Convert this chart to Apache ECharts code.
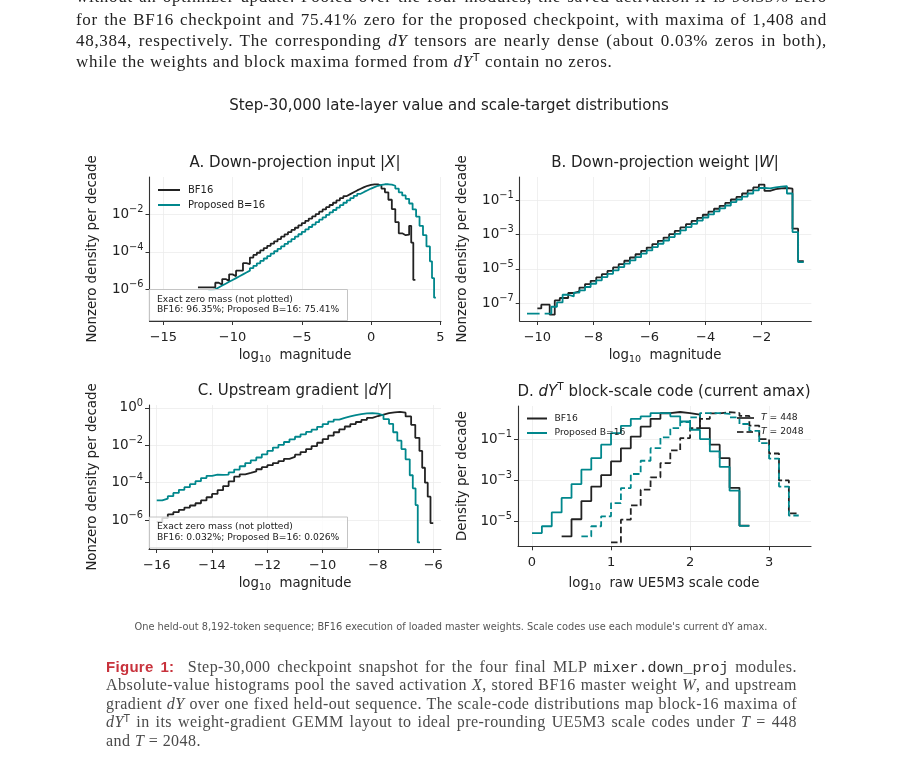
<!DOCTYPE html>
<html>
<head>
<meta charset="utf-8">
<script src="https://cdn.jsdelivr.net/npm/echarts@6/dist/echarts.min.js"></script>
<style>
  html, body { margin: 0; padding: 0; background: #fff; }
  #page { position: relative; width: 902px; height: 776px; overflow: hidden; }
  #chart { position: absolute; left: 0; top: 0; width: 902px; height: 776px; }
  .ln { position: absolute; font-family: "Liberation Serif", serif; text-align: justify; text-align-last: justify; white-space: nowrap; }
  .ln.last { text-align-last: left; }
  .body { left: 76px; width: 751px; font-size: 17px; line-height: 21px; color: #222; letter-spacing: 0.7px; }
  .cap { left: 106px; width: 691px; font-size: 16px; line-height: 19px; color: #4a4a4a; letter-spacing: 0.45px; }
  .ln sup { font-family: "DejaVu Sans", sans-serif; font-size: 0.62em; line-height: 0; vertical-align: 0.55em; }
  .fig { font-family: "Liberation Sans", sans-serif; font-weight: 600; color: #c8323c; font-size: 15px; letter-spacing: 0.3px; }
  .tt { font-family: "Liberation Mono", monospace; font-size: 15px; color: #333; letter-spacing: 0; }
</style>
</head>
<body>
<div id="page">
  <div id="chart"></div>

  <div class="ln body" style="top:-14px">without an optimizer update. Pooled over the four modules, the saved activation <i>X</i> is 96.35% zero</div>
  <div class="ln body" style="top:8.8px">for the BF16 checkpoint and 75.41% zero for the proposed checkpoint, with maxima of 1,408 and</div>
  <div class="ln body" style="top:29.8px">48,384, respectively. The corresponding <i>dY</i> tensors are nearly dense (about 0.03% zeros in both),</div>
  <div class="ln body last" style="top:50.8px">while the weights and block maxima formed from <i>dY</i><sup>T</sup> contain no zeros.</div>

  <div class="ln cap" style="top:656.8px"><span class="fig">Figure 1:</span>&nbsp; Step-30,000 checkpoint snapshot for the four final MLP <span class="tt">mixer.down_proj</span> modules.</div>
  <div class="ln cap" style="top:675.3px">Absolute-value histograms pool the saved activation <i>X</i>, stored BF16 master weight <i>W</i>, and upstream</div>
  <div class="ln cap" style="top:693.8px">gradient <i>dY</i> over one fixed held-out sequence. The scale-code distributions map block-16 maxima of</div>
  <div class="ln cap" style="top:712.3px"><i>dY</i><sup>T</sup> in its weight-gradient GEMM layout to ideal pre-rounding UE5M3 scale codes under <i>T</i> = 448</div>
  <div class="ln cap last" style="top:730.8px">and <i>T</i> = 2048.</div>
</div>

<script>
// values are log10(density per decade); x is log10 magnitude (bin edges)
const aBf16 = [[-12.5,-5.9],[-12.25,-5.9],[-12,-5.9],[-11.75,-5.9],[-11.5,-5.9],[-11.25,-5.65],[-11,-5.75],[-10.75,-5.45],[-10.5,-5.55],[-10.25,-5.2],[-10,-5.3],[-9.75,-5.0],[-9.5,-5.0],[-9.25,-4.6],[-9,-4.65],[-8.75,-4.3],[-8.5,-4.16],[-8.25,-4.04],[-8,-3.91],[-7.75,-3.79],[-7.5,-3.67],[-7.25,-3.55],[-7,-3.43],[-6.75,-3.31],[-6.5,-3.18],[-6.25,-3.06],[-6,-2.94],[-5.75,-2.82],[-5.5,-2.7],[-5.25,-2.57],[-5,-2.45],[-4.75,-2.33],[-4.5,-2.21],[-4.25,-2.09],[-4,-1.97],[-3.75,-1.84],[-3.5,-1.72],[-3.25,-1.6],[-3,-1.48],[-2.75,-1.36],[-2.5,-1.23],[-2.25,-1.11],[-2,-1.0],[-1.75,-0.9],[-1.5,-0.8],[-1.25,-0.7],[-1,-0.61],[-0.75,-0.52],[-0.5,-0.45],[-0.25,-0.4],[0,-0.37],[0.25,-0.38],[0.5,-0.45],[0.75,-0.6],[1,-0.8],[1.25,-1.2],[1.5,-1.7],[1.75,-2.4],[2,-3.0],[2.25,-3.1],[2.5,-3.07],[2.75,-2.6],[2.9,-3.5],[3.05,-5.5],[3.2,-5.5]];
const aProposed = [[-11.75,-6.05],[-11.5,-6.0],[-11.25,-5.9],[-11,-5.8],[-10.75,-5.7],[-10.5,-5.6],[-10.25,-5.5],[-10,-5.4],[-9.75,-5.3],[-9.5,-5.2],[-9.25,-5.1],[-9,-5.0],[-8.75,-4.87],[-8.5,-4.74],[-8.25,-4.61],[-8,-4.48],[-7.75,-4.35],[-7.5,-4.22],[-7.25,-4.09],[-7,-3.96],[-6.75,-3.83],[-6.5,-3.7],[-6.25,-3.57],[-6,-3.44],[-5.75,-3.31],[-5.5,-3.18],[-5.25,-3.05],[-5,-2.92],[-4.75,-2.79],[-4.5,-2.66],[-4.25,-2.53],[-4,-2.4],[-3.75,-2.27],[-3.5,-2.14],[-3.25,-2.01],[-3,-1.88],[-2.75,-1.75],[-2.5,-1.62],[-2.25,-1.49],[-2,-1.36],[-1.75,-1.23],[-1.5,-1.11],[-1.25,-0.99],[-1,-0.88],[-0.75,-0.78],[-0.5,-0.69],[-0.25,-0.6],[0,-0.52],[0.25,-0.45],[0.5,-0.4],[0.75,-0.37],[1,-0.37],[1.25,-0.39],[1.5,-0.45],[1.75,-0.6],[2,-0.8],[2.25,-0.97],[2.5,-1.15],[2.75,-1.4],[3,-1.72],[3.25,-2.1],[3.5,-2.6],[3.75,-3.1],[4,-3.7],[4.25,-4.5],[4.4,-5.4],[4.55,-6.45],[4.68,-6.45]];

const bBf16 = [[-10,-7.3],[-9.86,-7.08],[-9.56,-7.66],[-9.38,-6.83],[-9.2,-6.69],[-8.9,-6.4],[-8.7,-6.3],[-8.5,-6.08],[-8.3,-5.88],[-8.1,-5.69],[-7.9,-5.49],[-7.7,-5.3],[-7.5,-5.11],[-7.3,-4.91],[-7.1,-4.72],[-6.9,-4.52],[-6.7,-4.33],[-6.5,-4.14],[-6.3,-3.94],[-6.1,-3.75],[-5.9,-3.55],[-5.7,-3.36],[-5.5,-3.17],[-5.3,-2.97],[-5.1,-2.78],[-4.9,-2.58],[-4.7,-2.39],[-4.5,-2.2],[-4.3,-2.02],[-4.1,-1.84],[-3.9,-1.66],[-3.7,-1.49],[-3.5,-1.32],[-3.3,-1.15],[-3.1,-0.95],[-2.9,-0.8],[-2.7,-0.6],[-2.5,-0.42],[-2.3,-0.25],[-2.1,-0.08],[-1.9,-0.45],[-1.7,-0.35],[-1.5,-0.3],[-1.3,-0.28],[-1.1,-0.32],[-0.9,-2.65],[-0.7,-4.55],[-0.5,-4.55]];
const bProposed = [[-10.37,-7.6],[-9.92,-7.6],[-9.92,'-'],[-9.74,-7.6],[-9.5,-7.2],[-9.3,-6.95],[-9.1,-6.5],[-8.9,-6.6],[-8.7,-6.38],[-8.5,-6.25],[-8.3,-6.05],[-8.1,-5.86],[-7.9,-5.66],[-7.7,-5.47],[-7.5,-5.28],[-7.3,-5.08],[-7.1,-4.89],[-6.9,-4.69],[-6.7,-4.5],[-6.5,-4.31],[-6.3,-4.11],[-6.1,-3.92],[-5.9,-3.72],[-5.7,-3.53],[-5.5,-3.34],[-5.3,-3.14],[-5.1,-2.95],[-4.9,-2.75],[-4.7,-2.56],[-4.5,-2.37],[-4.3,-2.18],[-4.1,-2.0],[-3.9,-1.82],[-3.7,-1.64],[-3.5,-1.47],[-3.3,-1.3],[-3.1,-1.1],[-2.9,-0.95],[-2.7,-0.78],[-2.5,-0.6],[-2.3,-0.42],[-2.1,-0.28],[-1.9,-0.3],[-1.7,-0.25],[-1.5,-0.2],[-1.3,-0.17],[-1.1,-0.6],[-0.9,-2.85],[-0.7,-4.6],[-0.5,-4.6]];

const cBf16 = [[-16,-6.1],[-15.8,-5.9],[-15.6,-5.7],[-15.4,-5.58],[-15.2,-5.45],[-15,-5.33],[-14.8,-5.22],[-14.6,-5.1],[-14.4,-4.95],[-14.2,-4.78],[-14,-4.6],[-13.8,-4.4],[-13.6,-4.18],[-13.4,-3.93],[-13.2,-3.68],[-13,-3.55],[-12.8,-3.48],[-12.6,-3.4],[-12.4,-3.28],[-12.2,-3.17],[-12,-3.06],[-11.8,-2.95],[-11.6,-2.84],[-11.4,-2.72],[-11.2,-2.62],[-11,-2.5],[-10.8,-2.36],[-10.6,-2.2],[-10.4,-2.04],[-10.2,-1.86],[-10,-1.67],[-9.8,-1.48],[-9.6,-1.3],[-9.4,-1.14],[-9.2,-0.99],[-9,-0.86],[-8.8,-0.75],[-8.6,-0.64],[-8.4,-0.53],[-8.2,-0.43],[-8,-0.35],[-7.8,-0.28],[-7.6,-0.24],[-7.4,-0.21],[-7.2,-0.25],[-7,-0.45],[-6.8,-0.9],[-6.65,-1.6],[-6.5,-2.3],[-6.4,-3.2],[-6.3,-4.0],[-6.2,-4.75],[-6.1,-6.16],[-6,-6.16]];
const cProposed = [[-16,-4.95],[-15.8,-4.85],[-15.6,-4.72],[-15.4,-4.55],[-15.2,-4.38],[-15,-4.24],[-14.8,-4.08],[-14.6,-3.92],[-14.4,-3.75],[-14.2,-3.63],[-14,-3.57],[-13.8,-3.58],[-13.6,-3.57],[-13.4,-3.45],[-13.2,-3.3],[-13,-3.12],[-12.8,-2.95],[-12.6,-2.8],[-12.4,-2.65],[-12.2,-2.48],[-12,-2.3],[-11.8,-2.12],[-11.6,-1.97],[-11.4,-1.82],[-11.2,-1.68],[-11,-1.54],[-10.8,-1.41],[-10.6,-1.28],[-10.4,-1.16],[-10.2,-1.01],[-10,-0.86],[-9.8,-0.73],[-9.6,-0.62],[-9.4,-0.53],[-9.2,-0.45],[-9,-0.38],[-8.8,-0.33],[-8.6,-0.29],[-8.4,-0.27],[-8.2,-0.3],[-8,-0.4],[-7.8,-0.6],[-7.6,-0.85],[-7.45,-1.3],[-7.3,-1.75],[-7.15,-2.2],[-7,-2.75],[-6.85,-3.6],[-6.74,-4.3],[-6.64,-5.2],[-6.56,-7.2],[-6.48,-7.2]];

// panel D: x is log10 raw UE5M3 scale code
const dBf16T448 = [[0.375,-5.71],[0.5,-4.88],[0.625,-4.0],[0.75,-3.3],[0.875,-2.75],[1,-2.08],[1.125,-1.45],[1.25,-0.88],[1.375,-0.4],[1.5,-0.02],[1.625,0.25],[1.75,0.31],[1.875,0.26],[2,0.18],[2.125,-0.47],[2.25,-1.27],[2.375,-1.92],[2.5,-3.36],[2.625,-5.19],[2.75,-5.19]];
const dProposedT448 = [[0,-5.55],[0.125,-5.22],[0.25,-4.55],[0.375,-3.85],[0.5,-3.18],[0.625,-2.48],[0.75,-1.92],[0.875,-1.27],[1,-0.71],[1.125,-0.36],[1.25,-0.02],[1.375,0.1],[1.5,0.26],[1.625,0.26],[1.75,0.1],[1.875,-0.15],[2,-0.55],[2.125,-1.0],[2.25,-1.6],[2.375,-2.35],[2.5,-3.5],[2.625,-5.2],[2.75,-5.2]];
const dBf16T2048 = [[1,-6.0],[1.125,-4.9],[1.25,-4.21],[1.375,-3.45],[1.5,-2.85],[1.625,-2.16],[1.75,-1.55],[1.875,-0.95],[2,-0.47],[2.125,-0.02],[2.25,0.24],[2.375,0.3],[2.5,0.26],[2.625,0.12],[2.75,-0.35],[2.875,-1.0],[3,-1.7],[3.125,-3.0],[3.25,-4.6],[3.375,-4.6]];
const dProposedT2048 = [[0.625,-5.71],[0.75,-5.22],[0.875,-4.74],[1,-4.1],[1.125,-3.37],[1.25,-2.69],[1.375,-2.05],[1.5,-1.44],[1.625,-0.92],[1.75,-0.47],[1.875,-0.18],[2,0.05],[2.125,0.26],[2.25,0.26],[2.375,0.22],[2.5,0.05],[2.625,-0.27],[2.75,-0.6],[2.875,-1.2],[3,-1.95],[3.125,-3.3],[3.25,-4.7],[3.375,-4.7]];

// tick values (x in log10 units, y as decade exponents)
const aXTicks = [-15, -10, -5, 0, 5];
const aYTicks = [-6, -4, -2];
const bXTicks = [-10, -8, -6, -4, -2];
const bYTicks = [-7, -5, -3, -1];
const cXTicks = [-16, -14, -12, -10, -8, -6];
const cYTicks = [-6, -4, -2, 0];
const dXTicks = [0, 1, 2, 3];
const dYTicks = [-5, -3, -1];

const BLACK = "#222222";
const TEAL = "#00878c";
const FONT = "DejaVu Sans";

const minus = v => (v < 0 ? "\u2212" : "") + Math.abs(v);
const pow10 = v => "10{sup|" + minus(v) + "}";

const xAx = (gi, min, max, ticks) => ({
  type: "value", gridIndex: gi, min, max,
  axisLine: { show: true, onZero: false, lineStyle: { color: "#333", width: 1.1 } },
  axisTick: { show: true, length: 4, customValues: ticks, lineStyle: { color: "#333", width: 1 } },
  axisLabel: { customValues: ticks, margin: 10, color: "#222", fontFamily: FONT, fontSize: 13, formatter: minus },
  splitLine: { show: true, lineStyle: { color: "#ececec", width: 0.8 } }
});

const yAx = (gi, min, max, ticks) => ({
  type: "value", gridIndex: gi, min, max,
  axisLine: { show: true, onZero: false, lineStyle: { color: "#333", width: 1.1 } },
  axisTick: { show: true, length: 4, customValues: ticks, lineStyle: { color: "#333", width: 1 } },
  axisLabel: {
    customValues: ticks, margin: 6, color: "#222", fontFamily: FONT, fontSize: 13.5, formatter: pow10,
    rich: { sup: { fontFamily: FONT, fontSize: 9.8, color: "#222", padding: [0, 0, 10, 0] } }
  },
  splitLine: { show: true, lineStyle: { color: "#ececec", width: 0.8 } }
});

const stairs = (name, gi, data, color, dashed, z) => ({
  type: "line", name, xAxisIndex: gi, yAxisIndex: gi, data, step: "end",
  symbol: "none", silent: true, z,
  lineStyle: { color, width: 1.8, type: dashed ? [6.5, 3] : "solid" }
});

// helpers for text / legend marks
const txt = (x, y, text, size, opts = {}) => ({
  type: "text", x, y, z: 50, rotation: opts.rot || 0,
  style: {
    text, fill: opts.color || "#222", fontFamily: FONT, fontSize: size,
    textAlign: opts.align || "center", textVerticalAlign: "middle", rich: opts.rich
  }
});
const seg = (x1, x2, y, color, dashed) => ({
  type: "line", z: 50, shape: { x1, y1: y, x2, y2: y },
  style: { stroke: color, lineWidth: 2, lineDash: dashed ? [6.5, 3] : null }
});
const box = (x, y, w, h) => ({
  type: "rect", z: 40, shape: { x, y, width: w, height: h },
  style: { fill: "rgba(255,255,255,0.82)", stroke: "#c4c4c4", lineWidth: 1 }
});

const it = { fontFamily: FONT, fontSize: 15, fontStyle: "italic", fill: "#222" };
const titleRich = { i: it, sup: { fontFamily: FONT, fontSize: 10.5, fill: "#222", padding: [0, 0, 10, 0] } };
const subRich = { sub: { fontFamily: FONT, fontSize: 9.5, fill: "#222", padding: [8, 0, 0, 0] } };
const smallIt = { fontFamily: FONT, fontSize: 9.2, fontStyle: "italic", fill: "#222" };

const chart = echarts.init(document.getElementById("chart"), null, { renderer: "canvas", width: 902, height: 776 });

chart.setOption({
  animation: false,
  grid: [
    { left: 149.5, top: 177, width: 291.5, height: 144 },
    { left: 519.7, top: 177, width: 291.6, height: 144 },
    { left: 149, top: 405, width: 292, height: 144 },
    { left: 518, top: 406, width: 293, height: 140.3 }
  ],
  xAxis: [
    xAx(0, -16, 5.05, aXTicks),
    xAx(1, -10.63, -0.23, bXTicks),
    xAx(2, -16.28, -5.72, cXTicks),
    xAx(3, -0.177, 3.53, dXTicks)
  ],
  yAxis: [
    yAx(0, -7.7, 0.02, aYTicks),
    yAx(1, -8.03, 0.36, bYTicks),
    yAx(2, -7.55, 0.16, cYTicks),
    yAx(3, -6.19, 0.6, dYTicks)
  ],
  series: [
    stairs("BF16", 0, aBf16, BLACK, false, 3),
    stairs("Proposed B=16", 0, aProposed, TEAL, false, 4),
    stairs("BF16", 1, bBf16, BLACK, false, 3),
    stairs("Proposed B=16", 1, bProposed, TEAL, false, 4),
    stairs("BF16", 2, cBf16, BLACK, false, 3),
    stairs("Proposed B=16", 2, cProposed, TEAL, false, 4),
    stairs("BF16 T=448", 3, dBf16T448, BLACK, false, 3),
    stairs("Proposed B=16 T=448", 3, dProposedT448, TEAL, false, 4),
    stairs("BF16 T=2048", 3, dBf16T2048, BLACK, true, 3),
    stairs("Proposed B=16 T=2048", 3, dProposedT2048, TEAL, true, 4)
  ],
  graphic: [
    txt(449, 106, "Step-30,000 late-layer value and scale-target distributions", 15),
    txt(295, 163, "A. Down-projection input |{i|X}|", 15, { rich: titleRich }),
    txt(665, 163, "B. Down-projection weight |{i|W}|", 15, { rich: titleRich }),
    txt(295, 391, "C. Upstream gradient |{i|dY}|", 15, { rich: titleRich }),
    txt(664, 392, "D. {i|dY}{sup|T} block-scale code (current amax)", 15, { rich: titleRich }),

    txt(295, 356, "log{sub|10}  magnitude", 13.3, { rich: subRich }),
    txt(665, 356, "log{sub|10}  magnitude", 13.3, { rich: subRich }),
    txt(295, 584, "log{sub|10}  magnitude", 13.3, { rich: subRich }),
    txt(664, 584, "log{sub|10}  raw UE5M3 scale code", 13.3, { rich: subRich }),

    txt(93, 249, "Nonzero density per decade", 13.3, { rot: Math.PI / 2 }),
    txt(463, 249, "Nonzero density per decade", 13.3, { rot: Math.PI / 2 }),
    txt(93, 477, "Nonzero density per decade", 13.3, { rot: Math.PI / 2 }),
    txt(463, 476, "Density per decade", 13.3, { rot: Math.PI / 2 }),

    // panel A legend
    seg(158, 180, 190, BLACK), txt(188, 190, "BF16", 10, { align: "left" }),
    seg(158, 180, 205, TEAL), txt(188, 205, "Proposed B=16", 10, { align: "left" }),

    // zero-mass notes
    box(149.5, 289.5, 198, 31),
    txt(157, 299.5, "Exact zero mass (not plotted)", 9.2, { align: "left" }),
    txt(157, 310, "BF16: 96.35%; Proposed B=16: 75.41%", 9.2, { align: "left" }),
    box(149.5, 517, 198, 31),
    txt(157, 526.5, "Exact zero mass (not plotted)", 9.2, { align: "left" }),
    txt(157, 537.5, "BF16: 0.032%; Proposed B=16: 0.026%", 9.2, { align: "left" }),

    // panel D legends
    seg(527, 547, 418.5, BLACK), txt(554.5, 418.5, "BF16", 9.2, { align: "left" }),
    seg(527, 547, 433, TEAL), txt(554.5, 433, "Proposed B=16", 9.2, { align: "left" }),
    seg(737, 754, 418, "#444"), txt(761, 418, "{i|T} = 448", 9.2, { align: "left", rich: { i: smallIt } }),
    seg(737, 754, 432, "#444", true), txt(761, 432, "{i|T} = 2048", 9.2, { align: "left", rich: { i: smallIt } }),

    txt(451, 627, "One held-out 8,192-token sequence; BF16 execution of loaded master weights. Scale codes use each module's current dY amax.", 9.8, { color: "#555" })
  ]
});
</script>
</body>
</html>
